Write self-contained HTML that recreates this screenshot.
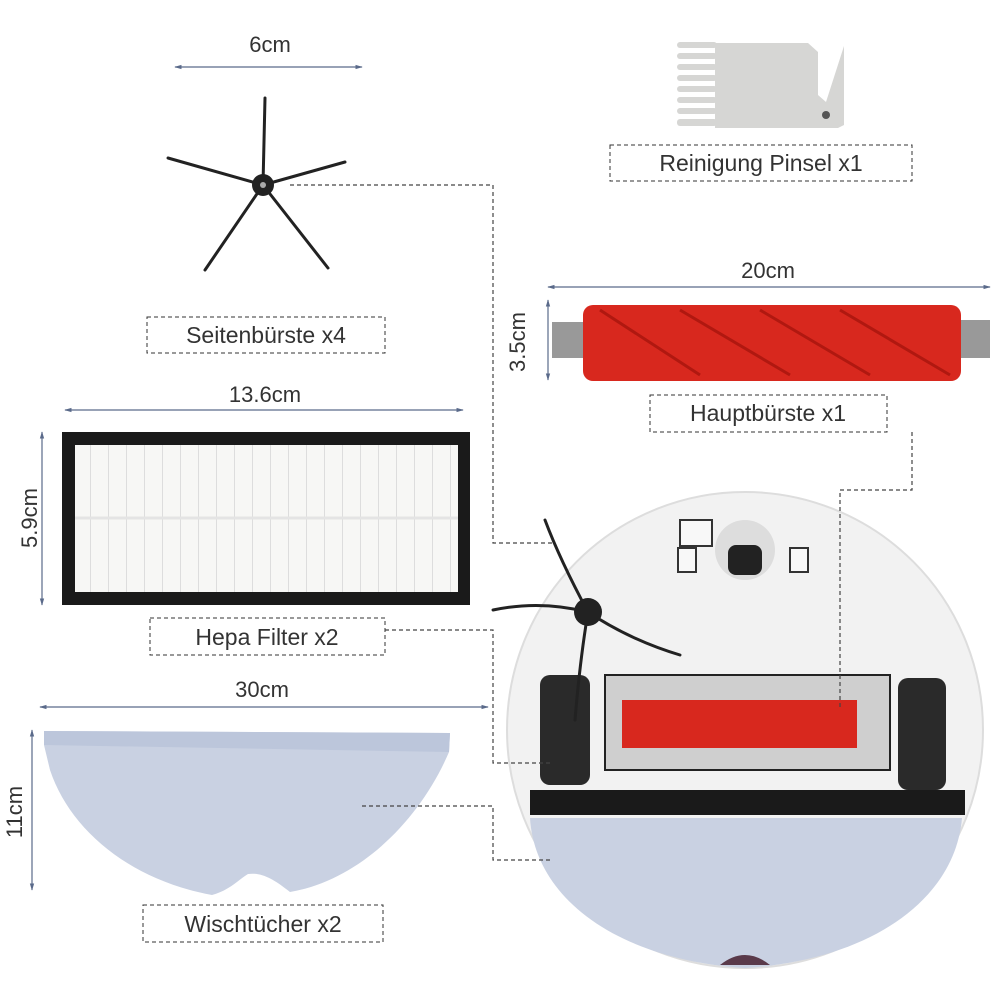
<!DOCTYPE html>
<html><head><meta charset="utf-8"><style>
html,body{margin:0;padding:0;background:#fff;}
svg{display:block;}
text{font-family:"Liberation Sans",sans-serif;fill:#333;}
</style></head><body>
<svg width="1001" height="1001" viewBox="0 0 1001 1001" xmlns="http://www.w3.org/2000/svg">
<defs>
<marker id="a" viewBox="0 0 10 10" refX="9" refY="5" markerWidth="6" markerHeight="6" orient="auto-start-reverse"><path d="M0,2 L10,5 L0,8z" fill="#5a6a8a"/></marker>
<pattern id="hp" width="18" height="10" patternUnits="userSpaceOnUse"><rect width="18" height="10" fill="#f7f7f5"/><line x1="0" y1="0" x2="0" y2="10" stroke="#ddd" stroke-width="2"/></pattern>
</defs>
<g stroke="#5a6a8a" stroke-width="1.2" fill="none">
<line x1="175" y1="67" x2="362" y2="67" marker-start="url(#a)" marker-end="url(#a)"/>
<line x1="548" y1="287" x2="990" y2="287" marker-start="url(#a)" marker-end="url(#a)"/>
<line x1="548" y1="300" x2="548" y2="380" marker-start="url(#a)" marker-end="url(#a)"/>
<line x1="65" y1="410" x2="463" y2="410" marker-start="url(#a)" marker-end="url(#a)"/>
<line x1="42" y1="432" x2="42" y2="605" marker-start="url(#a)" marker-end="url(#a)"/>
<line x1="40" y1="707" x2="488" y2="707" marker-start="url(#a)" marker-end="url(#a)"/>
<line x1="32" y1="730" x2="32" y2="890" marker-start="url(#a)" marker-end="url(#a)"/>
</g>
<g font-size="22">
<text x="270" y="52" text-anchor="middle">6cm</text>
<text x="768" y="278" text-anchor="middle">20cm</text>
<text x="265" y="402" text-anchor="middle">13.6cm</text>
<text x="262" y="697" text-anchor="middle">30cm</text>
<text transform="translate(525,342) rotate(-90)" text-anchor="middle">3.5cm</text>
<text transform="translate(37,518) rotate(-90)" text-anchor="middle">5.9cm</text>
<text transform="translate(22,812) rotate(-90)" text-anchor="middle">11cm</text>
</g>
<g stroke="#222" stroke-width="3" stroke-linecap="round">
<line x1="263" y1="185" x2="265" y2="98"/>
<line x1="263" y1="185" x2="168" y2="158"/>
<line x1="263" y1="185" x2="345" y2="162"/>
<line x1="263" y1="185" x2="205" y2="270"/>
<line x1="263" y1="185" x2="328" y2="268"/>
</g>
<circle cx="263" cy="185" r="11" fill="#222"/><circle cx="263" cy="185" r="3" fill="#aaa"/>
<!-- comb -->
<path d="M715,43 H808 L818,52 V95 L826,102 L844,46 V125 L838,128 H715z" fill="#d6d6d4"/>
<g fill="#d6d6d4">
<rect x="677" y="42" width="40" height="6" rx="3"/><rect x="677" y="53" width="40" height="6" rx="3"/><rect x="677" y="64" width="40" height="6" rx="3"/><rect x="677" y="75" width="40" height="6" rx="3"/><rect x="677" y="86" width="40" height="6" rx="3"/><rect x="677" y="97" width="40" height="6" rx="3"/><rect x="677" y="108" width="40" height="6" rx="3"/><rect x="677" y="119" width="40" height="7" rx="3"/>
</g>
<circle cx="826" cy="115" r="4" fill="#555"/>
<!-- main brush -->
<rect x="552" y="322" width="35" height="36" fill="#999"/>
<rect x="958" y="320" width="32" height="38" fill="#999"/>
<rect x="583" y="305" width="378" height="76" rx="10" fill="#d8281e"/>
<g stroke="#b01810" stroke-width="3" fill="none"><path d="M600,310 L700,375"/><path d="M680,310 L790,375"/><path d="M760,310 L870,375"/><path d="M840,310 L950,375"/></g>
<!-- hepa -->
<rect x="62" y="432" width="408" height="173" fill="#1a1a1a"/>
<rect x="75" y="445" width="383" height="147" fill="url(#hp)"/>
<line x1="75" y1="518" x2="458" y2="518" stroke="#e4e4e4" stroke-width="3"/>
<!-- mop cloth -->
<path d="M44,731 L450,733 L449,752 C420,820 360,880 290,892 C275,880 262,872 248,874 C238,880 230,890 212,895 C130,880 70,830 50,770 L44,745z" fill="#c9d1e2"/>
<path d="M44,731 L450,733 L449,752 L44,745z" fill="#bcc6db"/>
<!-- robot -->
<circle cx="745" cy="730" r="238" fill="#f2f2f2" stroke="#ddd" stroke-width="2"/>
<rect x="680" y="520" width="32" height="26" fill="#f8f8f8" stroke="#333" stroke-width="2"/>
<rect x="790" y="548" width="18" height="24" fill="#f8f8f8" stroke="#333" stroke-width="2"/>
<rect x="678" y="548" width="18" height="24" fill="#f8f8f8" stroke="#333" stroke-width="2"/>
<circle cx="745" cy="550" r="30" fill="#ddd"/><rect x="728" y="545" width="34" height="30" rx="8" fill="#222"/>
<rect x="540" y="675" width="50" height="110" rx="10" fill="#2a2a2a"/>
<rect x="898" y="678" width="48" height="112" rx="10" fill="#2a2a2a"/>
<path d="M605,675 H890 V770 H605z" fill="#cfcfcf" stroke="#222" stroke-width="2"/>
<rect x="622" y="700" width="235" height="48" fill="#d8281e"/>
<path d="M530,790 H965 V815 H530z" fill="#1a1a1a"/>
<path d="M530,818 H962 C955,900 870,960 745,968 C620,960 535,900 530,818z" fill="#c9d1e2"/>
<path d="M720,965 Q745,945 770,965z" fill="#5a3a4a"/>
<g stroke="#222" stroke-width="3" fill="none" stroke-linecap="round">
<path d="M588,612 Q560,560 545,520"/><path d="M588,612 Q540,600 493,610"/><path d="M588,612 Q630,640 680,655"/><path d="M588,612 Q580,660 575,720"/>
</g>
<circle cx="588" cy="612" r="14" fill="#222"/>
<!-- connectors -->
<g stroke="#444" stroke-width="1.2" stroke-dasharray="4,3" fill="none">
<polyline points="290,185 493,185 493,543 552,543"/>
<polyline points="912,432 912,490 840,490 840,710"/>
<polyline points="385,630 493,630 493,763 552,763"/>
<polyline points="362,806 493,806 493,860 552,860"/>
</g>
<g stroke="#333" stroke-width="1" stroke-dasharray="4,3" fill="#fff">
<rect x="610" y="145" width="302" height="36"/>
<rect x="650" y="395" width="237" height="37"/>
<rect x="147" y="317" width="238" height="36"/>
<rect x="150" y="618" width="235" height="37"/>
<rect x="143" y="905" width="240" height="37"/>
</g>
<g font-size="23" text-anchor="middle">
<text x="761" y="171">Reinigung Pinsel x1</text>
<text x="768" y="421">Hauptbürste x1</text>
<text x="266" y="343">Seitenbürste x4</text>
<text x="267" y="645">Hepa Filter x2</text>
<text x="263" y="932">Wischtücher x2</text>
</g>
</svg>
</body></html>
